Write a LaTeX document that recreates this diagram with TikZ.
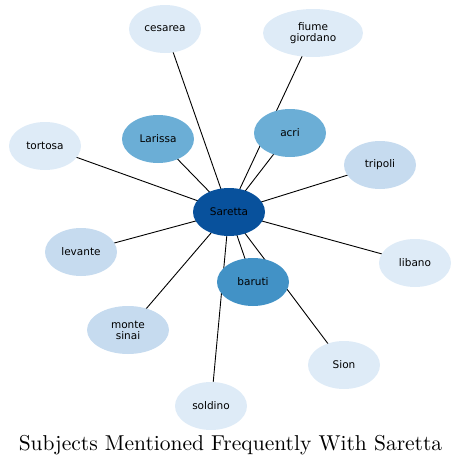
\documentclass[tikz,border=0pt]{standalone}
\usepackage{fontspec}
\newfontfamily\nodefont{DejaVu Sans}
\usetikzlibrary{shapes.geometric,backgrounds}
\definecolor{blueA}{HTML}{DEEBF7}
\definecolor{blueB}{HTML}{C6DBEF}
\definecolor{blueC}{HTML}{6BAED6}
\definecolor{blueD}{HTML}{4292C6}
\definecolor{blueE}{HTML}{08519C}
\tikzset{
  subj/.style={ellipse, draw=none, fill=#1, inner sep=0pt, minimum width=72pt, minimum height=48pt,
               align=center, font=\nodefont\fontsize{10.5}{11}\selectfont},
  subj/.default=blueA,
  link/.style={draw=black, line width=0.9pt},
}
\begin{document}
\begin{tikzpicture}[x=1pt, y=-1pt]
  \useasboundingbox (0,0) rectangle (461,467);
  \node[subj=blueE] (saretta) at (229,212) {Saretta};
  \node[subj] (cesarea) at (165,29) {cesarea};
  \node[subj, minimum width=100pt] (fiume) at (313,33) {fiume\\giordano};
  \node[subj] (tortosa) at (45,146) {tortosa};
  \node[subj=blueC] (larissa) at (158,139) {Larissa};
  \node[subj=blueC] (acri) at (290,133) {acri};
  \node[subj=blueB] (tripoli) at (380,165) {tripoli};
  \node[subj=blueB] (levante) at (81,252) {levante};
  \node[subj] (libano) at (415,263) {libano};
  \node[subj=blueD] (baruti) at (253,282) {baruti};
  \node[subj=blueB, minimum width=82pt] (sinai) at (128,330) {monte\\sinai};
  \node[subj] (sion) at (344,365) {Sion};
  \node[subj] (soldino) at (211,406) {soldino};
  % edges behind the nodes
  \begin{scope}[on background layer]
    \foreach \n in {cesarea,fiume,tortosa,larissa,acri,tripoli,levante,libano,baruti,sinai,sion,soldino}
      \draw[link] (saretta.center) -- (\n.center);
  \end{scope}
  \node[font=\fontsize{10}{12}\selectfont, scale=2.15] (title) at (230.5,445) {Subjects Mentioned Frequently With Saretta};
\end{tikzpicture}
\end{document}
